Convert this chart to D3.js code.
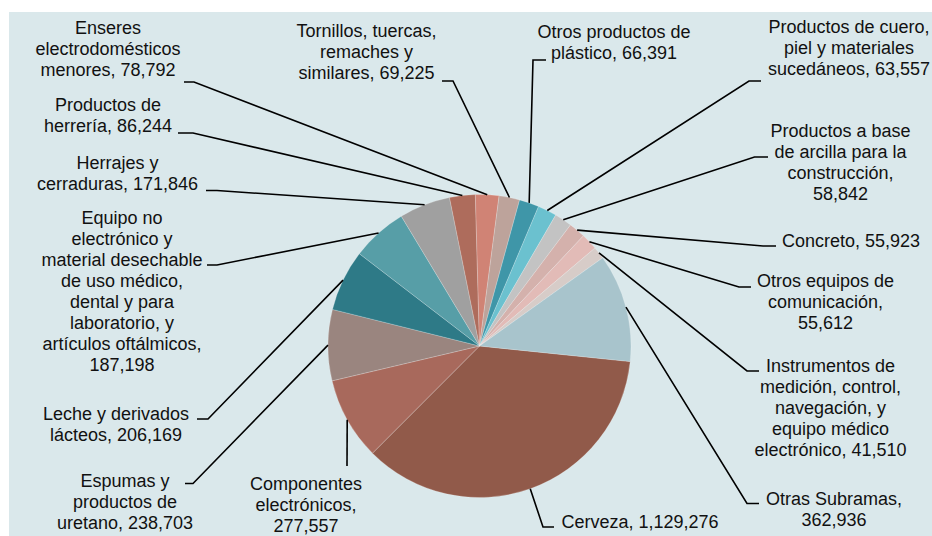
<!DOCTYPE html>
<html>
<head>
<meta charset="utf-8">
<script src="https://cdn.jsdelivr.net/npm/d3@7"></script>
<style>
  html, body { margin: 0; padding: 0; background: #ffffff; }
  svg { display: block; }
  text { font-family: "Liberation Sans", Arial, sans-serif; font-size: 18px; fill: #111; }
</style>
</head>
<body>
<svg id="chart" width="932" height="536"></svg>
<script>
// ---------- data ----------
const categories = [
  "Cerveza",
  "Componentes electrónicos",
  "Espumas y productos de uretano",
  "Leche y derivados lácteos",
  "Equipo no electrónico y material desechable de uso médico, dental y para laboratorio, y artículos oftálmicos",
  "Herrajes y cerraduras",
  "Productos de herrería",
  "Enseres electrodomésticos menores",
  "Tornillos, tuercas, remaches y similares",
  "Otros productos de plástico",
  "Productos de cuero, piel y materiales sucedáneos",
  "Productos a base de arcilla para la construcción",
  "Concreto",
  "Otros equipos de comunicación",
  "Instrumentos de medición, control, navegación, y equipo médico electrónico",
  "Otras Subramas"
];
const values = [1129276, 277557, 238703, 206169, 187198, 171846, 86244, 78792,
                69225, 66391, 63557, 58842, 55923, 55612, 41510, 362936];

// ---------- styles / layout ----------
const colors = ["#915a4a", "#a8695c", "#9a857f", "#2e7a87", "#579ea7", "#a0a0a0",
                "#ae6c5c", "#d08375", "#bda39b", "#3f96a8", "#6bc1cf", "#c3c3c3",
                "#d4b1ac", "#e2bbb7", "#d7ccc8", "#a8c4cc"];
// words per line for each wrapped label
const wordBreaks = [
  [2], [1,1,1], [2,2,2], [3,2], [2,2,2,3,3,2,2,1], [2,2], [2,2], [1,1,2],
  [2,2,2], [3,2], [3,3,2], [3,4,1,1], [2], [3,1,1], [2,2,2,2,2], [2,1]
];
// label centre x, first baseline y
const labelCx = [640, 306, 125, 116, 122, 117.5, 108, 108, 366.5, 614, 849, 840.5, 851, 825.5, 830.5, 834];
const labelY0 = [528, 490, 487, 419.5, 223.5, 169, 111, 33.5, 37, 37.5, 33, 136.5, 247, 286.5, 372, 505];
// leader elbow (x, y) and end x of the short horizontal part
const elbowX = [543, 347, 193, 208, 217, 217, 193, 194, 453, 533, 749, 754.5, 763, 739, 747, 747];
const elbowY = [527, 466, 483.5, 419, 265, 190.5, 133, 82, 81, 60, 81, 157, 246, 287, 371, 503.5];
const endX   = [554, 347, 185, 197, 207, 206, 178, 184, 442, 546, 761, 768, 776, 751, 759, 759];

const W = 932, H = 536;
const cx = 479.5, cy = 346, R = 151.5;
const lineH = 21;
const startDeg = 95.9;

const svg = d3.select("#chart");
svg.append("rect").attr("x", 9).attr("y", 12).attr("width", W - 9).attr("height", H - 12)
   .attr("fill", "#dae8eb");

const data = categories.map((c, i) => ({ name: c, value: values[i], i }));
const pie = d3.pie().sort(null).value(d => d.value)
  .startAngle(startDeg * Math.PI / 180)
  .endAngle(startDeg * Math.PI / 180 + 2 * Math.PI);
const arcs = pie(data);

const arc = d3.arc().innerRadius(0).outerRadius(R);
const edgeArc = d3.arc().innerRadius(R).outerRadius(R);

const g = svg.append("g").attr("transform", `translate(${cx},${cy})`);
g.selectAll("path.slice").data(arcs).enter().append("path")
  .attr("class", "slice")
  .attr("d", arc)
  .attr("fill", d => colors[d.index])
  .attr("stroke", "rgba(255,255,255,0.35)")
  .attr("stroke-width", 0.6);

// leader lines
const fmt = d3.format(",");
svg.append("g").selectAll("path.leader").data(arcs).enter().append("path")
  .attr("class", "leader")
  .attr("fill", "none")
  .attr("stroke", "#000")
  .attr("stroke-width", 1.6)
  .attr("d", d => {
    const [ex, ey] = edgeArc.centroid(d);
    const i = d.index;
    return d3.line()([[cx + ex, cy + ey], [elbowX[i], elbowY[i]], [endX[i], elbowY[i]]]);
  });

// labels
const labels = svg.append("g");
arcs.forEach(d => {
  const i = d.index;
  const words = (d.data.name + ", " + fmt(d.data.value)).split(" ");
  const lines = [];
  let k = 0;
  wordBreaks[i].forEach(n => { lines.push(words.slice(k, k + n).join(" ")); k += n; });
  const t = labels.append("text").attr("text-anchor", "middle");
  lines.forEach((ln, j) => {
    t.append("tspan").attr("x", labelCx[i]).attr("y", labelY0[i] + j * lineH).text(ln);
  });
});
</script>
</body>
</html>
